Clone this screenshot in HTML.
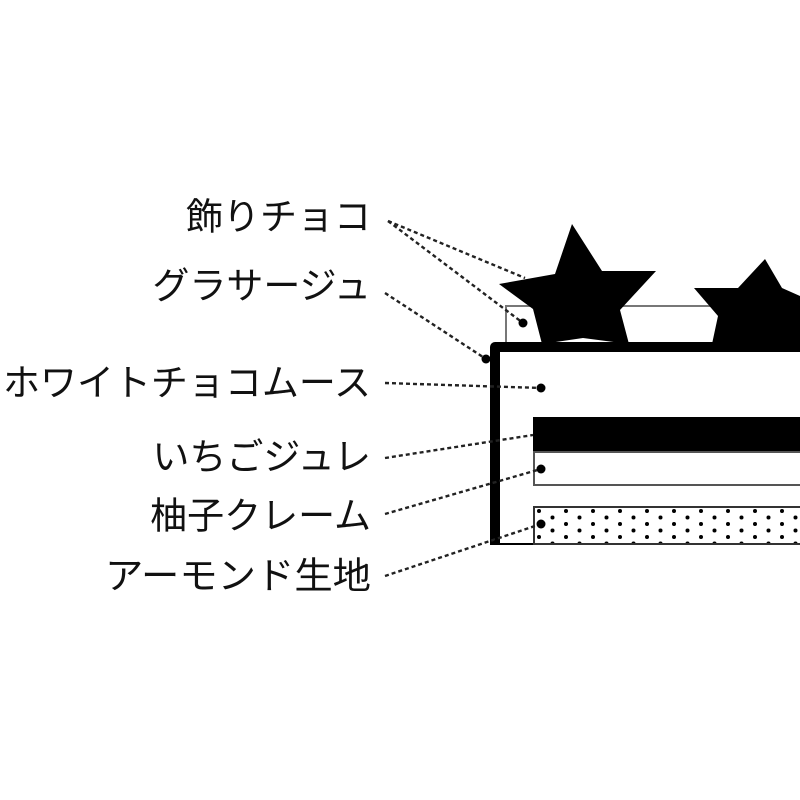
<!DOCTYPE html>
<html><head><meta charset="utf-8"><style>
html,body{margin:0;padding:0;background:#fff;}
svg{display:block;}
text{font-family:"Liberation Sans","Noto Sans CJK JP",sans-serif;font-size:37px;fill:#111;}
</style></head><body>
<svg width="800" height="800" viewBox="0 0 800 800" xmlns="http://www.w3.org/2000/svg">
<defs>
<pattern id="dots" x="533" y="507" width="27" height="13" patternUnits="userSpaceOnUse">
<circle cx="6" cy="4" r="2" fill="#000"/>
<circle cx="19.5" cy="10.5" r="2" fill="#000"/>
</pattern>
</defs>
<g text-anchor="end" dominant-baseline="central">
<text x="371" y="217">飾りチョコ</text>
<text x="371" y="286">グラサージュ</text>
<text x="371" y="383" textLength="368" lengthAdjust="spacingAndGlyphs">ホワイトチョコムース</text>
<text x="371" y="457">いちごジュレ</text>
<text x="371" y="516">柚子クレーム</text>
<text x="371" y="576" textLength="266" lengthAdjust="spacingAndGlyphs">アーモンド生地</text>
</g>
<rect x="506" y="306" width="300" height="38" fill="#fff" stroke="#777" stroke-width="2"/>
<polygon points="572,224 555,274 499,284 533,309 542,344 583,338 629,344 620,310 656,271 602,271" fill="#000"/>
<polygon points="765,259 738,288 694,288 718,316 712,344 800,344 800,296 782,288" fill="#000"/>
<rect x="495" y="347" width="310" height="197" fill="#fff"/>
<path d="M495,545 L495,347 L800,347" fill="none" stroke="#000" stroke-width="10" stroke-linejoin="round"/>
<line x1="495" y1="544" x2="800" y2="544" stroke="#000" stroke-width="2"/>
<rect x="533" y="417" width="270" height="35" fill="#000"/>
<rect x="534" y="452" width="270" height="33" fill="#fff" stroke="#555" stroke-width="2"/>
<rect x="534" y="507" width="270" height="37" fill="url(#dots)" stroke="#333" stroke-width="2"/>
<g stroke="#222" stroke-width="2.4" stroke-dasharray="4,3" fill="none">
<line x1="388" y1="221" x2="525" y2="278"/>
<line x1="388" y1="221" x2="523" y2="323"/>
<line x1="385" y1="293" x2="486" y2="359"/>
<line x1="385" y1="383" x2="541" y2="388"/>
<line x1="385" y1="458" x2="533" y2="435"/>
<line x1="385" y1="514" x2="541" y2="469"/>
<line x1="385" y1="576" x2="541" y2="524"/>
</g>
<g fill="#000">
<circle cx="523" cy="323" r="4.5"/>
<circle cx="486" cy="359" r="4.5"/>
<circle cx="541" cy="388" r="4.5"/>
<circle cx="541" cy="469" r="4.5"/>
<circle cx="541" cy="524" r="4.5"/>
<circle cx="497" cy="542" r="3"/>
</g>
</svg>
</body></html>
